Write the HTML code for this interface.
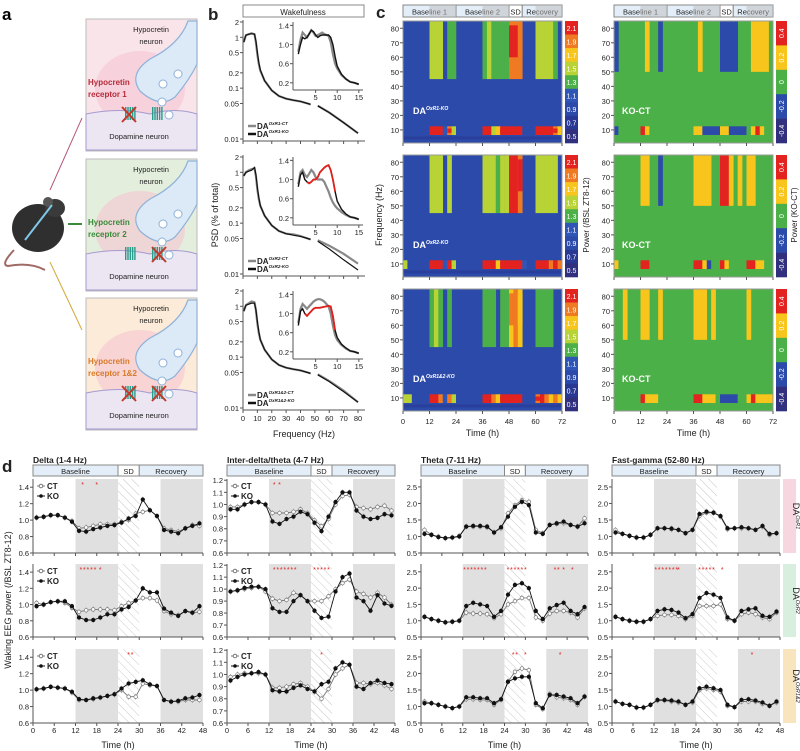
<!DOCTYPE html>
<html><head><meta charset="utf-8"><style>
html,body{margin:0;padding:0;background:#fff}
svg{display:block;font-family:"Liberation Sans",Arial,sans-serif}
</style></head><body>
<svg id="fig" width="800" height="751" viewBox="0 0 800 751" xmlns="http://www.w3.org/2000/svg">
<defs>
<pattern id="hatch" width="6" height="6" patternUnits="userSpaceOnUse" patternTransform="rotate(-45)"><line x1="0" y1="0" x2="0" y2="6" stroke="#c8c8c8" stroke-width="1"/></pattern>
</defs>
<!-- panel a -->
<g>
<text x="2" y="20" font-size="17" font-weight="bold">a</text>
<g>
<ellipse cx="38" cy="228" rx="26" ry="24" fill="#2f2f30"/>
<ellipse cx="55" cy="208" rx="10" ry="9" fill="#3a3a3b"/>
<ellipse cx="48" cy="202" rx="5" ry="5" fill="#555"/>
<path d="M14 250 Q0 265 8 266 Q30 262 45 270" stroke="#a06a66" stroke-width="2" fill="none"/>
<path d="M25 240 L52 205" stroke="#7fc8e6" stroke-width="2"/>
</g>
<line x1="50" y1="190" x2="82" y2="118" stroke="#b5587e" stroke-width="1"/>
<line x1="68" y1="224" x2="82" y2="224" stroke="#3c8a3c" stroke-width="2"/>
<line x1="50" y1="262" x2="82" y2="330" stroke="#d2aa3a" stroke-width="1"/>
</g>
<g id="boxes"></g>
<g id="gb"></g><g id="gc"></g><g id="gd"></g>
</svg>
<script>
const NS='http://www.w3.org/2000/svg';
function mk(tag,attrs,parent){const e=document.createElementNS(NS,tag);for(const k in attrs)e.setAttribute(k,attrs[k]);if(parent)parent.appendChild(e);return e;}
function tx(parent,x,y,s,size,anchor,extra){const e=mk('text',Object.assign({x:x,y:y,'font-size':size,'text-anchor':anchor||'start',fill:'#222'},extra||{}),parent);e.textContent=s;return e;}

/* ---------- panel a boxes ---------- */
const boxG=document.getElementById('boxes');
const boxFills=['#f9e4ea','#e3eedd','#fcebd8'];
const boxLabels=[['Hypocretin','receptor 1'],['Hypocretin','receptor 2'],['Hypocretin','receptor 1&2']];
const boxLabelColors=['#b52c3a','#3a8a3a','#d77a2a'];
const boxTops=[19,159,298];
boxTops.forEach((y0,i)=>{
  const g=mk('g',{},boxG);
  
  
  mk('rect',{x:86,y:y0,width:111,height:132,fill:boxFills[i],stroke:'#bbb','stroke-width':1},g);
  mk('ellipse',{cx:140,cy:y0+70,rx:45,ry:38,fill:'#f5c4d2',opacity:0.6},g);
  mk('path',{d:`M86 ${y0+95} Q120 ${y0+88} 150 ${y0+95} Q175 ${y0+88} 197 ${y0+95} L197 ${y0+131} L86 ${y0+131} Z`,fill:'#ebe6f2',stroke:'#a79ad0','stroke-width':1},g);
  mk('path',{d:`M197 ${y0+2} L188 ${y0+2} Q180 ${y0+25} 150 ${y0+40} Q128 ${y0+55} 140 ${y0+72} Q160 ${y0+90} 175 ${y0+78} Q190 ${y0+60} 197 ${y0+45} Z`,fill:'#dce9f7',stroke:'#8fb2d8','stroke-width':1.2},g);
  [[178,y0+55],[163,y0+65],[162,y0+83],[169,y0+96]].forEach(p=>mk('circle',{cx:p[0],cy:p[1],r:4,fill:'#fff',stroke:'#8fb2d8'},g));
  tx(g,151,y0+13,'Hypocretin',7.5,'middle');
  tx(g,151,y0+25,'neuron',7.5,'middle');
  tx(g,88,y0+66,boxLabels[i][0],8,'start',{fill:boxLabelColors[i],'font-weight':'bold'});
  tx(g,88,y0+78,boxLabels[i][1],8,'start',{fill:boxLabelColors[i],'font-weight':'bold'});
  tx(g,139,y0+120,'Dopamine neuron',7.5,'middle');
  [[125,y0+95],[152,y0+95]].forEach(p=>{for(let k=0;k<5;k++)mk('rect',{x:p[0]+k*2.3,y:p[1]-7,width:1.4,height:13,fill:'#2a9a8a'},g);});
  const xs=i===0?[125]:i===1?[155]:[125,155];
  xs.forEach(x=>{mk('line',{x1:x-3,y1:y0+88,x2:x+11,y2:y0+103,stroke:'#c0392b','stroke-width':2},g);mk('line',{x1:x+11,y1:y0+88,x2:x-3,y2:y0+103,stroke:'#c0392b','stroke-width':2},g);});
});

/* ---------- panel b data ---------- */
const psdFreq=[0.5,2,4,6,8,9,10,11,12,15,20,25,30,35,40,45,47,52,60,70,80];
const psdCT=[[0.8,1.1,1.15,1.2,1.15,0.8,0.45,0.3,0.22,0.14,0.09,0.07,0.062,0.058,0.055,0.05,0.048,0.045,0.033,0.021,0.013],
[0.85,1.0,1.1,1.15,1.2,0.85,0.45,0.3,0.22,0.14,0.09,0.07,0.062,0.06,0.056,0.05,0.048,0.046,0.036,0.025,0.016],
[0.8,1.05,1.15,1.25,1.2,0.85,0.45,0.3,0.22,0.14,0.09,0.07,0.062,0.058,0.055,0.05,0.048,0.046,0.034,0.022,0.013]];
const psdKO=[[0.8,1.1,1.15,1.18,1.15,0.85,0.5,0.32,0.23,0.14,0.09,0.07,0.062,0.058,0.055,0.05,0.048,0.045,0.033,0.021,0.013],
[0.85,1.0,1.05,1.1,1.25,0.9,0.5,0.32,0.22,0.14,0.09,0.07,0.062,0.058,0.055,0.05,0.048,0.044,0.031,0.019,0.012],
[0.8,1.05,1.1,1.15,1.15,0.85,0.5,0.32,0.22,0.14,0.09,0.07,0.062,0.058,0.055,0.05,0.048,0.045,0.033,0.021,0.013]];
const insetFreq=[1,1.5,2,2.5,3,3.5,4,4.5,5,5.5,6,6.5,7,7.5,8,8.5,9,9.5,10,11,12,13,14,15];
const insetCT=[[.85,1.1,1.25,1.2,1.15,1.22,1.3,1.25,1.18,1.2,1.22,1.25,1.22,1.2,1.18,1.05,0.8,0.6,0.5,0.36,0.28,0.22,0.2,0.17],
[.9,1.15,1.2,1.1,1.05,1.12,1.2,1.15,1.05,1.0,1.0,1.0,0.95,0.85,0.75,0.62,0.52,0.45,0.4,0.32,0.26,0.22,0.2,0.17],
[.8,1.1,1.2,1.15,1.1,1.15,1.2,1.25,1.28,1.3,1.3,1.28,1.25,1.2,1.15,1.0,0.75,0.55,0.45,0.34,0.27,0.22,0.2,0.17]];
const insetKO=[[.8,1.0,1.15,1.12,1.15,1.22,1.3,1.27,1.2,1.15,1.18,1.2,1.2,1.2,1.2,1.15,1.0,0.75,0.55,0.38,0.28,0.22,0.2,0.17],
[.85,1.1,1.15,1.0,0.95,0.92,0.95,1.0,1.0,1.05,1.15,1.2,1.25,1.28,1.3,1.2,1.0,0.75,0.55,0.38,0.28,0.22,0.2,0.17],
[.75,1.05,1.1,1.0,0.95,1.0,1.05,1.1,1.12,1.12,1.12,1.13,1.14,1.15,1.16,1.15,0.95,0.65,0.5,0.36,0.28,0.22,0.2,0.17]];
const insetSig=[[],[4,5,6,7,8,9,10,11,12,13,14,15,16,17],[3,4,5,6,7,8,9,10,11,12,13,14,15,16,17]];
const psdTicks=[2,1,0.5,0.2,0.1,0.05,0.01];
const psdXTicks=[0,10,20,30,40,50,60,70,80];
const insetYTicks=[1.4,1.0,0.6,0.2];
const insetXTicks=[5,10,15];
const legendNames=[['OxR1-CT','OxR1-KO'],['OxR2-CT','OxR2-KO'],['OxR1&2-CT','OxR1&2-KO']];

const gb=document.getElementById('gb');
tx(gb,208,20,'b',17,'start',{'font-weight':'bold'});
const wk=mk('rect',{x:243,y:5,width:121,height:12,fill:'#fff',stroke:'#888'},gb);


tx(gb,303,15,'Wakefulness',8,'middle');
const psdYL=tx(gb,0,0,'PSD (% of total)',9,'middle',{transform:'translate(218,215) rotate(-90)'});


const fxl=tx(gb,304,437,'Frequency (Hz)',9,'middle');


const bX=f=>243+f*115/80;
for(let r=0;r<3;r++){
  const off=[0,135,269][r];
  const bY=v=>off+22+(Math.log10(2)-Math.log10(v))*(117/(Math.log10(2)+2));
  const g=mk('g',{},gb);
  
  
  mk('line',{x1:243,y1:off+20,x2:243,y2:off+141,stroke:'#555'},g);
  mk('line',{x1:243,y1:off+141,x2:365,y2:off+141,stroke:'#555'},g);
  psdTicks.forEach(t=>{mk('line',{x1:240,x2:243,y1:bY(t),y2:bY(t),stroke:'#555'},g);tx(g,239,bY(t)+3,String(t),7.5,'end');});
  psdXTicks.forEach(t=>{mk('line',{x1:bX(t),x2:bX(t),y1:off+141,y2:off+144,stroke:'#555'},g);if(r===2)tx(g,bX(t),off+152,String(t),7.5,'middle');});
  [[psdCT[r],'#888',2.2],[psdKO[r],'#111',1.2]].forEach(([d,c,w])=>{
    let p1='',p2='';
    psdFreq.forEach((f,i)=>{const s=(f<50?(p1?'L':'M'):(p2?'L':'M'))+bX(f).toFixed(1)+' '+bY(d[i]).toFixed(1);if(f<50)p1+=s;else p2+=s;});
    const l1=mk('path',{d:p1,stroke:c,'stroke-width':w,fill:'none'},g);
    
    const l2=mk('path',{d:p2,stroke:c,'stroke-width':w,fill:'none'},g);
    
  });
  // legend
  mk('line',{x1:248,x2:256,y1:off+126,y2:off+126,stroke:'#888','stroke-width':2.5},g);
  mk('line',{x1:248,x2:256,y1:off+134,y2:off+134,stroke:'#111','stroke-width':2.5},g);
  const t1=tx(g,257,off+129,'DA',8,'start',{'font-weight':'bold'});
  const s1=mk('tspan',{'font-size':4.5,dy:-4,'font-style':'italic'},t1);s1.textContent=legendNames[r][0];
  const t2=tx(g,257,off+137,'DA',8,'start',{'font-weight':'bold'});
  const s2=mk('tspan',{'font-size':4.5,dy:-4,'font-style':'italic'},t2);s2.textContent=legendNames[r][1];
  // inset
  const iX=f=>294+f*67/15.5;
  const iY=v=>off+90-(v-0.05)*(67/1.4);
  mk('line',{x1:293,y1:off+22,x2:293,y2:off+90,stroke:'#555'},g);
  mk('line',{x1:293,y1:off+90,x2:363,y2:off+90,stroke:'#555'},g);
  insetYTicks.forEach(t=>{mk('line',{x1:290,x2:293,y1:iY(t),y2:iY(t),stroke:'#555'},g);tx(g,289,iY(t)+3,t.toFixed(1),7.5,'end');});
  insetXTicks.forEach(t=>{mk('line',{x1:iX(t),x2:iX(t),y1:off+90,y2:off+93,stroke:'#555'},g);tx(g,iX(t),off+100,String(t),7.5,'middle');});
  [[insetCT[r],'#888',2.2],[insetKO[r],'#111',1.4]].forEach(([d,c,w])=>{
    const p=d.map((v,i)=>(i?'L':'M')+iX(insetFreq[i]).toFixed(1)+' '+iY(v).toFixed(1)).join('');
    const l=mk('path',{d:p,stroke:c,'stroke-width':w,fill:'none'},g);
    
  });
  const sig=insetSig[r];
  if(sig.length){const p=sig.map((i,k)=>(k?'L':'M')+iX(insetFreq[i]).toFixed(1)+' '+iY(insetKO[r][i]).toFixed(1)).join('');
    const l=mk('path',{d:p,stroke:'#e0201c','stroke-width':1.8,fill:'none'},g);
    }
}

/* ---------- panel c data ---------- */
const gammaLeft=[
[0.95,0.95,0.95,0.95,0.95,0.95,1.45,1.5,1.4,0.95,1.35,1.3,0.95,0.95,0.95,0.95,0.95,0.95,1.35,1.4,1.35,1.3,1.35,1.3,1.9,1.95,1.8,0.95,0.95,0.95,1.4,1.45,1.5,1.4,1.35,0.95],
[0.95,0.95,0.95,0.95,0.95,0.95,1.5,1.55,1.45,1.0,1.4,0.95,0.95,0.95,0.95,0.95,0.95,0.95,1.5,1.55,1.5,1.35,1.4,1.4,2.1,2.15,1.9,0.95,0.95,0.95,1.5,1.55,1.5,1.45,1.4,0.95],
[0.95,0.95,0.95,0.95,0.95,0.95,1.35,1.4,1.35,0.95,1.3,0.95,0.95,0.95,0.95,0.95,0.95,0.95,1.35,1.35,1.3,0.95,1.3,1.3,1.75,1.8,1.6,0.95,0.95,0.95,1.3,1.35,1.3,1.3,0.95,0.95]];
const thetaLeft=[
[0.95,0.95,0.95,0.95,0.95,0.95,2.1,2.1,2.0,1.0,1.9,1.5,0.95,0.95,0.95,0.95,0.95,0.95,2.0,2.0,1.5,1.6,2.1,2.1,2.2,2.2,2.1,0.95,0.95,0.95,2.0,2.1,2.0,2.0,1.9,1.6],
[1.5,0.95,0.95,0.95,0.95,0.95,2.2,2.2,2.1,1.0,2.0,1.5,0.95,0.95,0.95,0.95,0.95,0.95,2.2,2.2,2.0,1.7,2.2,2.2,2.2,2.2,2.2,1.0,0.95,0.95,2.1,2.2,2.1,1.8,2.0,1.8],
[1.5,1.4,0.95,0.95,0.95,0.95,2.0,2.0,1.8,1.0,1.8,1.5,0.95,0.95,0.95,0.95,0.95,0.95,2.0,2.0,1.8,1.6,2.0,2.0,2.2,2.2,2.1,0.95,0.95,0.95,1.9,2.0,1.8,1.6,1.8,1.6]];
const gammaRight=[
[-0.25,0,0,0,0,0,0,0.15,0,0,-0.25,0,0,0,0,0,0,0,0,0.15,0,0,0,0,-0.25,-0.3,-0.25,-0.25,0,0,0,0.15,0.25,0.25,0.2,0],
[0,0,0,0,0,0,0.15,0.15,0,0,-0.25,0,0,0,0,0,0,0,0.25,0.25,0.2,0.2,0,0,0.45,0.45,0.25,0,0.15,0,0.2,0.15,0,0,0,0],
[0,0,0.15,0,0,0,0.2,0.2,0,0,0.15,0,0,0,0,0,0,0,0.2,0.25,0.2,0,0.15,0,0,0,0,0,0,0,0.15,0,0,0,0,0]];
const thetaRight=[
[-0.25,0,0,0,0,0,0.45,0.3,0,0,0,0,0,0,0,0,0,0,0.3,0.2,-0.25,-0.25,-0.25,-0.25,0.2,0.25,-0.25,-0.25,-0.25,-0.25,0,0.2,0.45,0.2,0,0],
[0.2,0,0,0,0,0,0.45,0.45,0,0,0,0,0,0,0,0,0,0,0.45,0.45,0.2,-0.25,0,0,0.45,0.3,0,0,0,0,0.45,0.45,0.3,0.2,0,0],
[0,0,0,0,0,0,0.45,0.3,0.3,0.2,0,0,0,0,0,0,0,0,0.45,0.45,0.3,0.3,0.2,0,-0.3,-0.3,-0.3,-0.3,0,0,0.3,0.45,0.3,0.3,0.3,0.3]];
const heatNames=['DA|OxR1-KO','DA|OxR2-KO','DA|OxR1&2-KO'];
const colTicksLeft=[2.1,1.9,1.7,1.5,1.3,1.1,0.9,0.7,0.5];
const colTicksRight=[0.4,0.2,0,-0.2,-0.4];
const freqTicks=[10,20,30,40,50,60,70,80];
const timeTicks72=[0,12,24,36,48,60,72];
function colLeft(v){return v>=2.0?'#e2231f':v>=1.8?'#f07a22':v>=1.6?'#f8c51c':v>=1.4?'#b8d335':v>=1.2?'#4cb048':v>=1.0?'#2f56b6':v>=0.8?'#2c4aa9':v>=0.6?'#283893':'#30307e';}
function colRight(v){return v>=0.35?'#e2231f':v>=0.12?'#f8c51c':v>-0.12?'#4cb048':v>-0.35?'#2c4aa9':'#30307e';}

const gc=document.getElementById('gc');
tx(gc,376,18,'c',17,'start',{'font-weight':'bold'});
const cy=tx(gc,0,0,'Frequency (Hz)',9,'middle',{transform:'translate(382,215) rotate(-90)'});


const cp=tx(gc,0,0,'Power (/BSL ZT8-12)',8,'middle',{transform:'translate(589,215) rotate(-90)'});


const cp2=tx(gc,0,0,'Power (KO-CT)',8,'middle',{transform:'translate(797,215) rotate(-90)'});


const hmCols=[{x0:403,x1:562,cb:565,cbw:13,left:true},{x0:614,x1:773,cb:776,cbw:11,left:false}];
const hmRows=[21,155,289];
hmCols.forEach((c,ci)=>{
  const tX=t=>c.x0+t*(c.x1-c.x0)/72;
  // header
  [['Baseline 1',0,24,'#e3eef9'],['Baseline 2',24,48,'#e3eef9'],['SD',48,54,'#fff'],['Recovery',54,72,'#e3eef9']].forEach(h=>{
    const r=mk('rect',{x:tX(h[1]),y:5,width:tX(h[2])-tX(h[1]),height:12,fill:h[3],stroke:'#888'},gc);
    
    
    tx(gc,(tX(h[1])+tX(h[2]))/2,14.5,h[0],7.5,'middle');
  });
  mk('rect',{x:tX(12),y:5,width:tX(24)-tX(12),height:12,fill:'#bbb',opacity:0.5},gc);
  mk('rect',{x:tX(36),y:5,width:tX(48)-tX(36),height:12,fill:'#bbb',opacity:0.5},gc);
  mk('rect',{x:tX(60),y:5,width:tX(72)-tX(60),height:12,fill:'#bbb',opacity:0.5},gc);
  hmRows.forEach((y0,ri)=>{
    const fY=f=>y0+122-(f-1)*(122/84);
    const g=mk('g',{},gc);
    
    
    const base=c.left?colLeft(0.95):colRight(0);
    mk('rect',{x:c.x0,y:y0,width:c.x1-c.x0,height:122,fill:base},g);
    const gam=c.left?gammaLeft[ri]:gammaRight[ri];
    const the=c.left?thetaLeft[ri]:thetaRight[ri];
    const cf=c.left?colLeft:colRight;
    for(let i=0;i<36;i++){
      const gv=gam[i];
      if(c.left?gv>1.0:gv!==0){
        const cell=mk('rect',{x:tX(i*2),y:fY(85),width:tX(2)-tX(0)+0.3,height:fY(c.left?45:50)-fY(85),fill:cf(gv)},g);
        
        if(c.left&&gv>=1.6){const inner=mk('rect',{x:tX(i*2),y:fY(82),width:tX(2)-tX(0)+0.3,height:fY(60)-fY(82),fill:cf(gv+0.15)},g);}
      }
      const tv=the[i];
      const tc=mk('rect',{x:tX(i*2),y:fY(12.5),width:tX(2)-tX(0)+0.3,height:fY(6.5)-fY(12.5),fill:cf(tv)},g);
      
      if(c.left&&tv>1.8){const tcc=mk('rect',{x:tX(i*2),y:fY(11),width:tX(2)-tX(0)+0.3,height:fY(8)-fY(11),fill:'#e2231f'},g);}
    }
    if(c.left)mk('rect',{x:c.x0,y:fY(5.5),width:c.x1-c.x0,height:fY(3.5)-fY(5.5),fill:'#283893',opacity:0.6},g);
    mk('rect',{x:c.x0,y:y0,width:c.x1-c.x0,height:122,fill:'none',stroke:'#999'},g);
    freqTicks.forEach(f=>{mk('line',{x1:c.x0-3,x2:c.x0,y1:fY(f),y2:fY(f),stroke:'#555'},g);tx(g,c.x0-4,fY(f)+3,String(f),7.5,'end');});
    timeTicks72.forEach(t=>mk('line',{x1:tX(t),x2:tX(t),y1:y0+122,y2:y0+125,stroke:'#555'},g));
    if(ri===2)timeTicks72.forEach(t=>tx(g,tX(t),424,String(t),7.5,'middle'));
    // label
    if(c.left){const parts=heatNames[ri].split('|');const t=tx(g,c.x0+10,y0+93,parts[0],9,'start',{fill:'#fff','font-weight':'bold'});const s=mk('tspan',{'font-size':5,dy:-4,'font-style':'italic',fill:'#fff'},t);s.textContent=parts[1];}
    else tx(g,c.x0+8,y0+93,'KO-CT',9,'start',{fill:'#fff','font-weight':'bold'});
    // colorbar
    const ticks=c.left?colTicksLeft:colTicksRight;
    const h=122/ticks.length;
    ticks.forEach((t,k)=>{
      mk('rect',{x:c.cb,y:y0+k*h,width:c.cbw,height:h+0.3,fill:c.left?colLeft(t):colRight(t)},g);
      if(c.left)tx(g,c.cb+c.cbw/2,y0+k*h+h/2+3,t.toFixed(1),7,'middle',{fill:'#fff'});
      else tx(g,0,0,String(t),7,'middle',{fill:'#fff',transform:`translate(${c.cb+c.cbw/2+2.5},${y0+k*h+h/2}) rotate(-90)`});
    });
  });
  const tl=tx(gc,(c.x0+c.x1)/2,436,'Time (h)',9,'middle');
  
  
});

/* ---------- panel d data ---------- */
const hours=[1,3,5,7,9,11,13,15,17,19,21,23,25,27,29,31,33,35,37,39,41,43,45,47];
const deltaCT=[[1.03,1.04,1.06,1.06,1.03,0.99,0.90,0.91,0.93,0.95,0.95,0.95,0.98,1.0,1.08,1.10,1.12,1.05,0.90,0.88,0.86,0.90,0.94,0.93],
[1.02,1.0,1.03,1.04,1.02,0.96,0.91,0.93,0.94,0.94,0.94,0.93,0.98,1.02,1.05,1.08,1.08,1.05,0.92,0.88,0.87,0.92,0.90,0.91],
[1.01,1.02,1.04,1.03,1.02,0.97,0.88,0.88,0.89,0.91,0.93,0.95,1.0,0.92,0.92,1.08,1.06,1.05,0.88,0.86,0.86,0.88,0.88,0.88]];
const deltaKO=[[1.03,1.04,1.06,1.06,1.03,0.98,0.87,0.86,0.89,0.91,0.93,0.94,0.97,1.02,1.05,1.25,1.12,1.05,0.88,0.86,0.84,0.90,0.93,0.96],
[0.98,1.0,1.03,1.04,1.04,0.98,0.84,0.81,0.81,0.84,0.88,0.88,0.94,0.97,1.05,1.20,1.15,1.15,0.95,0.90,0.86,0.92,0.90,0.98],
[1.01,1.02,1.04,1.03,1.02,0.98,0.89,0.88,0.90,0.91,0.93,0.95,1.02,1.08,1.10,1.12,1.07,1.05,0.88,0.86,0.87,0.90,0.91,0.94]];
const interCT=[[0.98,0.98,1.0,1.02,1.02,1.0,0.93,0.93,0.93,0.94,0.96,0.93,0.87,0.82,0.88,1.0,1.07,1.08,0.98,0.97,0.96,0.98,0.99,0.95],
[0.98,0.99,1.0,1.01,1.02,0.98,0.92,0.90,0.91,0.97,0.95,0.90,0.90,0.90,0.94,1.0,1.05,1.08,0.98,0.96,0.93,0.97,0.93,0.87],
[0.98,1.0,1.01,1.01,1.01,1.0,0.89,0.89,0.90,0.92,0.93,0.90,0.86,0.80,0.88,1.0,1.05,1.08,0.93,0.93,0.92,0.93,0.91,0.88]];
const interKO=[[0.96,0.96,1.0,1.02,1.02,1.0,0.86,0.84,0.88,0.90,0.94,0.92,0.85,0.78,0.90,1.02,1.10,1.10,0.95,0.90,0.88,0.89,0.92,0.91],
[0.98,0.99,1.01,1.02,1.02,1.0,0.84,0.81,0.81,0.90,0.95,0.90,0.82,0.76,0.77,0.98,1.10,1.13,0.93,0.90,0.82,0.95,0.88,0.86],
[0.95,0.98,1.0,1.01,1.02,1.0,0.87,0.86,0.86,0.89,0.91,0.88,0.86,0.92,0.94,1.05,1.10,1.08,0.90,0.88,0.93,0.95,0.93,0.92]];
const thetaCT=[[1.2,1.05,1.0,0.95,0.97,1.02,1.3,1.3,1.3,1.28,1.12,1.25,1.7,1.95,2.1,2.05,1.2,1.1,1.35,1.38,1.4,1.35,1.3,1.55],
[1.12,1.05,1.0,0.95,0.97,1.0,1.25,1.22,1.22,1.2,1.08,1.2,1.5,1.6,1.7,1.7,1.1,1.0,1.22,1.3,1.3,1.25,1.1,1.38],
[1.15,1.10,1.05,1.0,0.95,1.0,1.22,1.22,1.2,1.2,1.05,1.2,1.75,2.05,2.15,2.1,1.05,0.92,1.38,1.28,1.25,1.2,1.05,1.3]];
const thetaKO=[[1.08,1.05,0.98,0.95,0.97,1.0,1.3,1.32,1.32,1.3,1.12,1.28,1.6,1.9,2.05,1.95,1.12,1.08,1.35,1.4,1.45,1.35,1.3,1.40],
[1.12,1.05,1.0,0.95,0.97,1.0,1.45,1.55,1.5,1.45,1.12,1.3,1.8,2.1,2.15,2.0,1.3,1.05,1.38,1.48,1.55,1.3,1.2,1.42],
[1.1,1.1,1.05,1.0,0.95,1.0,1.28,1.28,1.25,1.25,1.1,1.22,1.75,1.85,1.9,1.9,1.1,0.95,1.35,1.35,1.3,1.25,1.1,1.3]];
const gammaCT=[[1.2,1.08,1.02,0.97,0.97,1.05,1.25,1.25,1.22,1.2,1.1,1.2,1.62,1.72,1.72,1.6,1.22,1.25,1.25,1.25,1.2,1.3,1.05,1.1],
[1.12,1.05,1.0,0.97,0.97,1.05,1.15,1.18,1.18,1.15,1.05,1.15,1.45,1.45,1.45,1.5,1.05,1.0,1.2,1.25,1.2,1.1,1.05,1.25],
[1.15,1.08,1.05,0.97,0.97,1.05,1.18,1.18,1.15,1.12,1.05,1.12,1.5,1.55,1.5,1.45,1.02,0.98,1.15,1.15,1.15,1.08,1.02,1.12]];
const gammaKO=[[1.12,1.08,1.02,0.97,0.97,1.05,1.25,1.25,1.24,1.2,1.1,1.2,1.68,1.75,1.72,1.62,1.25,1.25,1.28,1.25,1.2,1.32,1.08,1.1],
[1.12,1.05,1.0,0.97,0.97,1.05,1.3,1.35,1.33,1.25,1.08,1.2,1.7,1.85,1.8,1.7,1.1,1.0,1.3,1.35,1.38,1.15,1.12,1.28],
[1.15,1.08,1.05,0.97,0.97,1.05,1.2,1.2,1.18,1.15,1.05,1.15,1.55,1.6,1.55,1.5,1.05,0.98,1.2,1.22,1.18,1.12,1.02,1.15]];
const bandTitles=['Delta (1-4 Hz)','Inter-delta/theta (4-7 Hz)','Theta (7-11 Hz)','Fast-gamma (52-80 Hz)'];
const yTicksD=[[0.6,0.8,1.0,1.2,1.4],[0.6,0.7,0.8,0.9,1.0,1.1,1.2],[0.5,1.0,1.5,2.0,2.5],[0.5,1.0,1.5,2.0,2.5]];
const yRangeD=[[0.6,1.5],[0.6,1.21],[0.5,2.74],[0.5,2.74]];
const timeTicks48=[0,6,12,18,24,30,36,42,48];
const starHours=[
[[14,18],[13.5,14.5,15.5,16.5,17.5,19],[27,28]],
[[13.5,15],[13.5,14.5,15.5,16.5,17.5,18.5,19.5,25,26,27,28,29],[27]],
[[],[12.5,13.5,14.5,15.5,16.5,17.5,18.5,25,26,27,28,29,30,38.5,39.5,41,43.5],[26.5,27.5,30,40]],
[[],[12.5,13.5,14.5,15.5,16.5,17.5,18.5,19,25,26,27,28,29,31.5],[40]]];
const genoTags=['OxR1','OxR2','OxR1&2'];
const tagColors=['#f8d6df','#d8efdf','#f8e5bd'];

const gd=document.getElementById('gd');
tx(gd,2,472,'d',17,'start',{'font-weight':'bold'});
const dyl=tx(gd,0,0,'Waking EEG power (/BSL ZT8-12)',9,'middle',{transform:'translate(11,600) rotate(-90)'});


const colX=[[33,203],[227,395],[421,588],[612,780]];
const rowTop=[479,564,649],rowBot=[553,637,723];
const dataCT=[deltaCT,interCT,thetaCT,gammaCT],dataKO=[deltaKO,interKO,thetaKO,gammaKO];
colX.forEach((cx,ci)=>{
  const X=t=>cx[0]+t*(cx[1]-cx[0])/48;
  const ttl=tx(gd,cx[0],463,bandTitles[ci],8.5,'start',{'font-weight':'bold'});
  
  
  [['Baseline',0,24,'#e3eef9'],['SD',24,30,'#fff'],['Recovery',30,48,'#e3eef9']].forEach(h=>{
    mk('rect',{x:X(h[1]),y:465,width:X(h[2])-X(h[1]),height:11,fill:h[3],stroke:'#888'},gd);
    tx(gd,(X(h[1])+X(h[2]))/2,474,h[0],7.5,'middle');
  });
  for(let ri=0;ri<3;ri++){
    const y0=rowTop[ri],y1=rowBot[ri],rg=yRangeD[ci];
    const Y=v=>y1-(v-rg[0])*(y1-y0)/(rg[1]-rg[0]);
    const g=mk('g',{},gd);
    
    
    mk('rect',{x:X(12),y:y0,width:X(24)-X(12),height:y1-y0,fill:'#e0e0e0'},g);
    mk('rect',{x:X(36),y:y0,width:X(48)-X(36),height:y1-y0,fill:'#e0e0e0'},g);
    mk('rect',{x:X(24),y:y0,width:X(30)-X(24),height:y1-y0,fill:'url(#hatch)'},g);
    mk('line',{x1:cx[0],y1:y0,x2:cx[0],y2:y1,stroke:'#555'},g);
    mk('line',{x1:cx[0],y1:y1,x2:cx[1],y2:y1,stroke:'#555'},g);
    yTicksD[ci].forEach(t=>{mk('line',{x1:cx[0]-3,x2:cx[0],y1:Y(t),y2:Y(t),stroke:'#555'},g);tx(g,cx[0]-4,Y(t)+3,t.toFixed(1),7.5,'end');});
    timeTicks48.forEach(t=>{mk('line',{x1:X(t),x2:X(t),y1:y1,y2:y1+3,stroke:'#555'},g);if(ri===2)tx(g,X(t),y1+10,String(t),7.5,'middle');});
    [[dataCT[ci][ri],'#777','#fff'],[dataKO[ci][ri],'#111','#111']].forEach(([d,sc,fc],si)=>{
      const p=d.map((v,i)=>(i?'L':'M')+X(hours[i]).toFixed(1)+' '+Y(v).toFixed(1)).join('');
      const l=mk('path',{d:p,stroke:sc,'stroke-width':0.9,fill:'none'},g);
      
      d.forEach((v,i)=>{
        mk('line',{x1:X(hours[i]),x2:X(hours[i]),y1:Y(v)-3,y2:Y(v)+3,stroke:'#999','stroke-width':0.6},g);
        const c=mk('circle',{cx:X(hours[i]),cy:Y(v),r:1.8,fill:fc,stroke:sc,'stroke-width':0.7},g);
        
      });
    });
    starHours[ci][ri].forEach(h=>tx(g,X(h),y0+8,'*',7,'middle',{fill:'#e0201c'}));
    if(ci<2){
      mk('line',{x1:cx[0]+4,x2:cx[0]+12,y1:y0+7,y2:y0+7,stroke:'#777'},g);
      mk('circle',{cx:cx[0]+8,cy:y0+7,r:1.8,fill:'#fff',stroke:'#777'},g);
      tx(g,cx[0]+14,y0+10,'CT',8,'start',{'font-weight':'bold'});
      mk('line',{x1:cx[0]+4,x2:cx[0]+12,y1:y0+17,y2:y0+17,stroke:'#111'},g);
      mk('circle',{cx:cx[0]+8,cy:y0+17,r:1.8,fill:'#111'},g);
      tx(g,cx[0]+14,y0+20,'KO',8,'start',{'font-weight':'bold'});
    }
    if(ci===3){
      const tag=mk('rect',{x:783,y:y0,width:13,height:y1-y0,fill:tagColors[ri]},g);
      
      
      const t=tx(g,0,0,'DA',9,'middle',{transform:`translate(793,${(y0+y1)/2}) rotate(90)`});
      const s=mk('tspan',{'font-size':5.5,dy:-3,'font-style':'italic'},t);s.textContent=genoTags[ri];
    }
  }
  const tl=tx(gd,(cx[0]+cx[1])/2,748,'Time (h)',9,'middle');
  
  
});
</script>
</body></html>
